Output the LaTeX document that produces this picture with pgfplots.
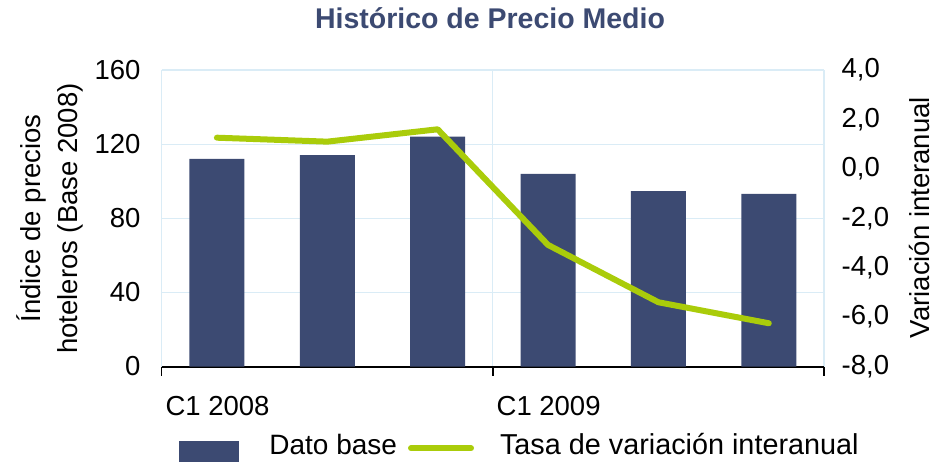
\documentclass[border=0pt]{standalone}
\usepackage{pgfplots}
\pgfplotsset{compat=1.18}
\usepackage{fontspec}
\setmainfont{Liberation Sans}
\definecolor{barblue}{RGB}{60,74,114}
\definecolor{lgreen}{RGB}{170,204,10}
\definecolor{gridblue}{RGB}{218,236,246}
\newcommand{\tfont}{\fontsize{27.5}{33}\selectfont}
\begin{document}
\begin{tikzpicture}
\path[use as bounding box] (0,0) rectangle (934pt,461pt);
\begin{axis}[
  at={(161.7pt,94.5pt)}, anchor=south west,
  width=662.3pt, height=296.5pt, scale only axis,
  xmin=-0.5, xmax=5.5, ymin=0, ymax=160,
  axis line style={draw=none},
  xtick={-0.5,2.5,5.5},
  xticklabels={C1 2008,C1 2009,{}},
  ytick={0,40,80,120,160},
  xmajorgrids, ymajorgrids,
  major grid style={gridblue, line width=1.2pt},
  extra y ticks={0},
  extra y tick labels={},
  extra y tick style={grid=major, major grid style={black, line width=2pt}},
  xtick pos=left,
  tick align=outside,
  major tick length=9pt,
  xtick style={black, line width=1.5pt},
  ytick style={draw=none},
  tick label style={font=\tfont},
  /pgf/number format/assume math mode=true,
  xticklabel style={anchor=base west, inner sep=0pt, xshift=3.6pt, yshift=-40pt},
  yticklabel style={anchor=east, inner sep=0pt, xshift=-12pt},
  ylabel={Índice de precios\\hoteleros (Base 2008)},
  ylabel style={at={(axis description cs:-0.1684,0.499)}, anchor=center, rotate=0, align=center, font=\fontsize{27.5}{36.5}\selectfont, inner sep=0pt},
  title={Histórico de Precio Medio},
  title style={at={(axis description cs:0.4957,1.1204)}, anchor=base, font=\bfseries\fontsize{28.5}{34}\selectfont, text=barblue, inner sep=0pt},
]
\addplot[ybar, bar width=55pt, fill=barblue, draw=none]
  coordinates {(0,112.0) (1,114.1) (2,124.1) (3,103.9) (4,94.7) (5,93.1)};
\end{axis}
\begin{axis}[
  at={(161.7pt,94.5pt)}, anchor=south west,
  width=662.3pt, height=296.5pt, scale only axis,
  xmin=-0.5, xmax=5.5, ymin=-8, ymax=4,
  hide x axis,
  axis line style={draw=none},
  ytick={-8,-6,-4,-2,0,2,4},
  ytick pos=right, yticklabel pos=right,
  ytick style={draw=none},
  major tick length=0pt,
  tick label style={font=\tfont},
  /pgf/number format/assume math mode=true,
  yticklabel style={anchor=west, inner sep=0pt, xshift=17.5pt,
    /pgf/number format/.cd, fixed, fixed zerofill, precision=1, use comma},
  ylabel={Variación interanual},
  ylabel style={at={(axis description cs:1.160,0.5025)}, anchor=base, rotate=0, font=\tfont, inner sep=0pt},
  legend style={at={(axis description cs:0.0261,-0.2243)}, anchor=north west,
    draw=none, fill=none, inner sep=0pt, outer sep=0pt,
    font=\fontsize{28}{33}\selectfont,
    nodes={inner sep=0pt, anchor=base west},
    /tikz/column 1/.style={column sep=30.7pt},
    /tikz/column 2/.style={column sep=11pt},
    /tikz/column 3/.style={column sep=26pt}},
  legend columns=2,
]
\addlegendimage{legend image code/.code={\fill[barblue] (0pt,-7pt) rectangle (59.3pt,13pt);}}
\addlegendentry{Dato base}
\addplot[lgreen, line width=6pt, line join=round, line cap=round,
  legend image code/.code={\draw[lgreen, line width=6pt, line cap=round] (0pt,6pt) -- (60pt,6pt);}]
  coordinates {(0,1.26) (1,1.10) (2,1.60) (3,-3.08) (4,-5.40) (5,-6.25)};
\addlegendentry{\fontsize{28.8}{33}\selectfont Tasa de variación interanual}
\end{axis}
\end{tikzpicture}
\end{document}
